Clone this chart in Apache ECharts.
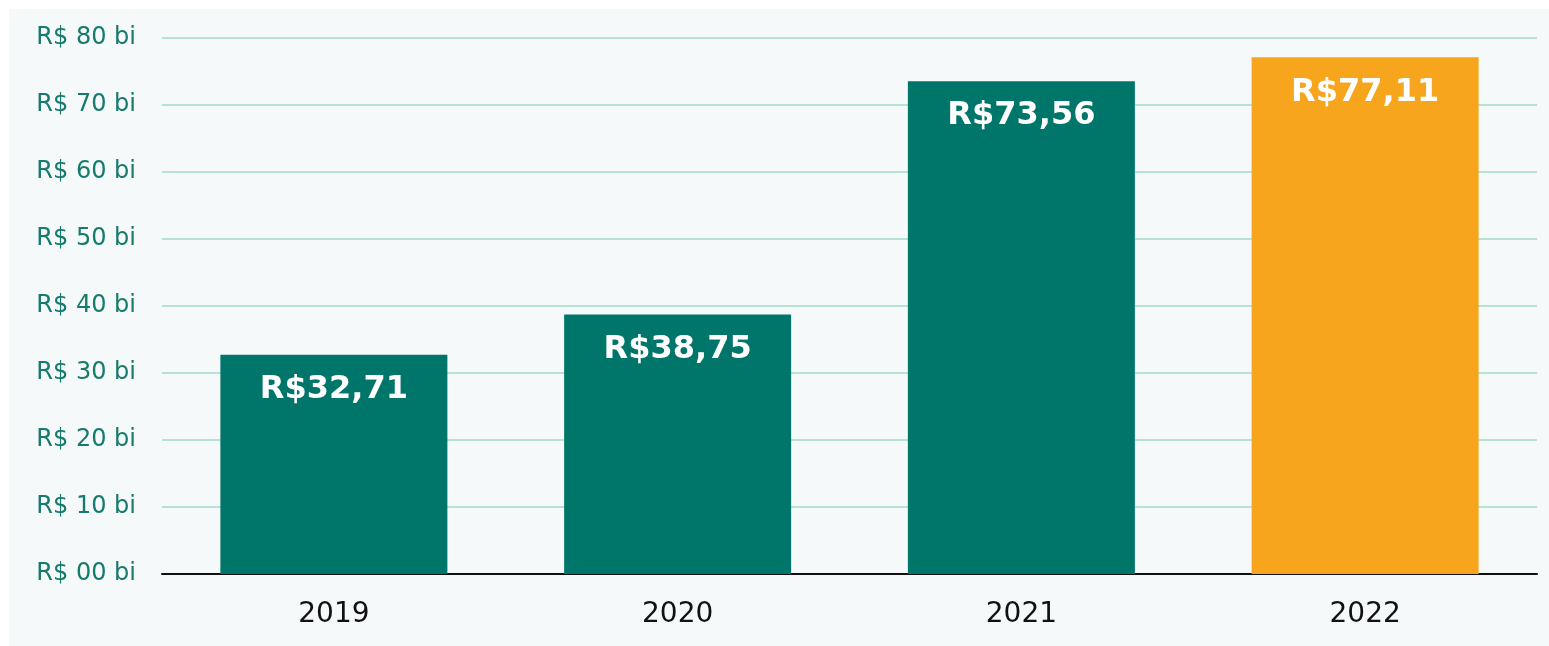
<!DOCTYPE html>
<html>
<head>
<meta charset="utf-8">
<script src="https://cdn.jsdelivr.net/npm/echarts@6/dist/echarts.min.js"></script>
<style>
	html, body { margin: 0; padding: 0; background: #ffffff; }
	#chart { width: 1549px; height: 646px; }
</style>
</head>
<body>
<div id="chart"></div>
<script>
// values in R$ billions
const years = ['2019', '2020', '2021', '2022'];
const revenue = [32.71, 38.75, 73.56, 77.11];
const barColors = ['#00766a', '#00766a', '#00766a', '#f7a51d'];
const yTickLabels = ['R$ 00 bi', 'R$ 10 bi', 'R$ 20 bi', 'R$ 30 bi', 'R$ 40 bi', 'R$ 50 bi', 'R$ 60 bi', 'R$ 70 bi', 'R$ 80 bi'];

const font = '"DejaVu Sans", sans-serif';
const chart = echarts.init(document.getElementById('chart'));

chart.setOption({
	backgroundColor: '#ffffff',
	animation: false,
	graphic: [
		{
			type: 'rect',
			z: -10,
			shape: { x: 9, y: 9, width: 1540, height: 637 },
			style: { fill: '#f5f9f9' },
		},
	],
	grid: {
		left: 162,
		right: 12,
		top: 38,
		bottom: 72,
	},
	xAxis: {
		type: 'category',
		data: years,
		axisLine: { lineStyle: { color: '#111111', width: 2 } },
		axisTick: { show: false },
		axisLabel: {
			color: '#111111',
			fontSize: 28,
			fontFamily: font,
			margin: 27,
		},
	},
	yAxis: {
		type: 'value',
		min: 0,
		max: 80,
		interval: 10,
		axisLine: { show: false },
		axisTick: { show: false },
		splitLine: { lineStyle: { color: '#b6e2d4', width: 2 } },
		axisLabel: {
			color: '#167a6c',
			fontSize: 24,
			fontFamily: font,
			margin: 26,
			formatter: (v) => yTickLabels[Math.round(v / 10)],
		},
	},
	series: [
		{
			type: 'bar',
			barWidth: 227,
			data: revenue.map((v, i) => ({ value: v, itemStyle: { color: barColors[i] } })),
			label: {
				show: true,
				position: 'insideTop',
				distance: 19,
				color: '#ffffff',
				fontSize: 32,
				fontWeight: 'bold',
				fontFamily: font,
				formatter: (p) => 'R$' + p.value.toFixed(2).replace('.', ','),
			},
		},
	],
});
</script>
</body>
</html>
